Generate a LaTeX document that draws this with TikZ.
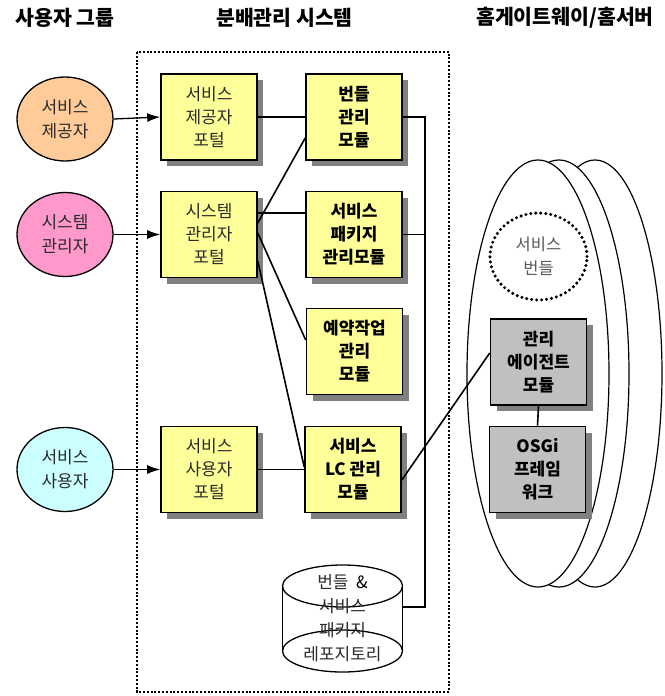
\documentclass[tikz,border=0pt]{standalone}
\usepackage{fontspec}
\newfontfamily\kr{Noto Sans CJK KR}
\usetikzlibrary{arrows.meta,shapes.geometric,calc}
\definecolor{uorange}{HTML}{FFCC99}
\definecolor{upink}{HTML}{FF99CC}
\definecolor{ucyan}{HTML}{CCFFFF}
\definecolor{pyellow}{HTML}{FFFF99}
\definecolor{mgray}{HTML}{C0C0C0}
\definecolor{sgray}{HTML}{808080}
\definecolor{txtgray}{HTML}{2A2A2A}
\newcommand{\shadowat}[2]{\fill[sgray] (#1-42,#2-37) rectangle (#1+54,#2+49);}
\tikzset{
  title/.style={font=\kr\bfseries\fontsize{20.5}{24}\selectfont, anchor=center},
  usr/.style={ellipse, draw, line width=1.3pt, minimum width=96pt, minimum height=84pt, inner sep=0pt,
    align=center, text=txtgray, font=\kr\fontsize{17}{24}\selectfont},
  boxbase/.style={rectangle, draw, line width=1.6pt, minimum width=96pt, minimum height=86pt, inner sep=0pt,
    align=center},
  portal/.style={boxbase, fill=pyellow, text=txtgray, font=\kr\fontsize{17}{23}\selectfont},
  module/.style={boxbase, fill=pyellow, font=\kr\bfseries\fontsize{17}{23}\selectfont},
  gmodule/.style={boxbase, fill=mgray, font=\kr\bfseries\fontsize{17}{23}\selectfont},
  gw/.style={ellipse, draw, line width=1.2pt, fill=white, minimum height=427pt, inner sep=0pt},
  conn/.style={line width=1.6pt},
  arr/.style={line width=1.3pt, -{Latex[length=13pt,width=9pt]}},
}
\begin{document}
\begin{tikzpicture}[x=1pt,y=-1pt]
\useasboundingbox (0,0) rectangle (664,696);
% titles
\node[title] (t1) at (65,18) {사용자 그룹};
\node[title] (t2) at (284.5,18) {분배관리 시스템};
\node[title] (t3) at (565,18) {홈게이트웨이/홈서버};
% dotted frame
\draw[line width=2.2pt, dash pattern=on 2pt off 1.8pt] (137,52) rectangle (449,692);
% user ellipses
\node[usr, fill=uorange] (u1) at (65,119) {서비스\\제공자};
\node[usr, fill=upink] (u2) at (65,234.5) {시스템\\관리자};
\node[usr, fill=ucyan] (u3) at (65,469.5) {서비스\\사용자};
% shadows of the boxes in the system frame
\shadowat{209}{117}
\shadowat{209}{234.5}
\shadowat{209}{469.5}
\shadowat{354}{117}
\shadowat{354}{234.5}
\shadowat{354.5}{351.5}
\shadowat{353}{469.5}
% portals
\node[portal] (p1) at (209,117) {서비스\\제공자\\포털};
\node[portal] (p2) at (209,234.5) {시스템\\관리자\\포털};
\node[portal] (p3) at (209,469.5) {서비스\\사용자\\포털};
% modules
\node[module] (m1) at (354,117) {번들\\관리\\모듈};
\node[module] (m2) at (354,234.5) {서비스\\패키지\\관리모듈};
\node[module] (m3) at (354.5,351.5) {예약작업\\관리\\모듈};
\node[module] (m4) at (353,469.5) {서비스\\LC 관리\\모듈};
% repository cylinder
\node[minimum width=120pt, minimum height=107pt, inner sep=0pt] (repo) at (342.5,618.5) {};
\draw[line width=1.3pt] (282.5,586) -- (282.5,651) (402.5,586) -- (402.5,651);
\draw[line width=1.3pt] (342.5,586) ellipse [x radius=60pt, y radius=21pt];
\draw[line width=1.3pt] (342.5,651) ellipse [x radius=60pt, y radius=21pt];
\node[align=center, text=txtgray, font=\kr\fontsize{17}{24}\selectfont] (repotext) at (342.5,618) {번들\ \ \textcolor{black}{\&}\\서비스\\패키지\\레포지토리};
\coordinate (repoR) at (402.5,607);
% gateway ellipses
\node[gw, minimum width=134pt] (g3) at (595,373.5) {};
\node[gw, minimum width=140pt] (g2) at (559,373.5) {};
\node[gw, minimum width=142pt] (g1) at (538,373.5) {};
% service bundle
\node[ellipse, draw, line width=3.4pt, dash pattern=on 0pt off 5pt, line cap=round,
  minimum width=97pt, minimum height=87pt, inner sep=0pt, align=center,
  text=black!65, font=\kr\fontsize{16.5}{24}\selectfont] (sb) at (538.5,256.5) {서비스\\번들};
% gray modules
\shadowat{538.5}{362}
\shadowat{537.5}{469.5}
\node[gmodule] (a1) at (538.5,362) {관리\\에이전트\\모듈};
\node[gmodule] (a2) at (537.5,469.5) {OSGi\\프레임\\워크};
% arrows from users to portals
\draw[arr] (u1.east) -- (p1.west);
\draw[arr] (u2.east) -- (p2.west);
\draw[arr] (u3.east) -- (p3.west);
% portal to module connectors
\draw[conn] (p1.east) -- (m1.west);
\draw[conn] ([yshift=11.5pt]p2.east) -- ([yshift=-21pt]m1.west);
\draw[conn] ([yshift=21.5pt]p2.east) -- ([yshift=21.5pt]m2.west);
\draw[conn] ([yshift=1.5pt]p2.east) -- ([yshift=11.5pt]m3.west);
\draw[conn] ([yshift=-26.5pt]p2.east) -- ([yshift=2.5pt]m4.west);
\draw[conn] (p3.east) -- (m4.west);
% bus
\coordinate (bb) at (425,607);
\draw[conn] (m1.east) -| (bb) -- (repoR);
\draw[conn] (m2.east) -- (m2.east -| bb);
% LC module to agent
\draw[conn] ([yshift=-10.5pt]m4.east) -- ([yshift=9pt]a1.west);
\draw[conn] (a1.south) -- (a2.north);
\end{tikzpicture}
\end{document}
